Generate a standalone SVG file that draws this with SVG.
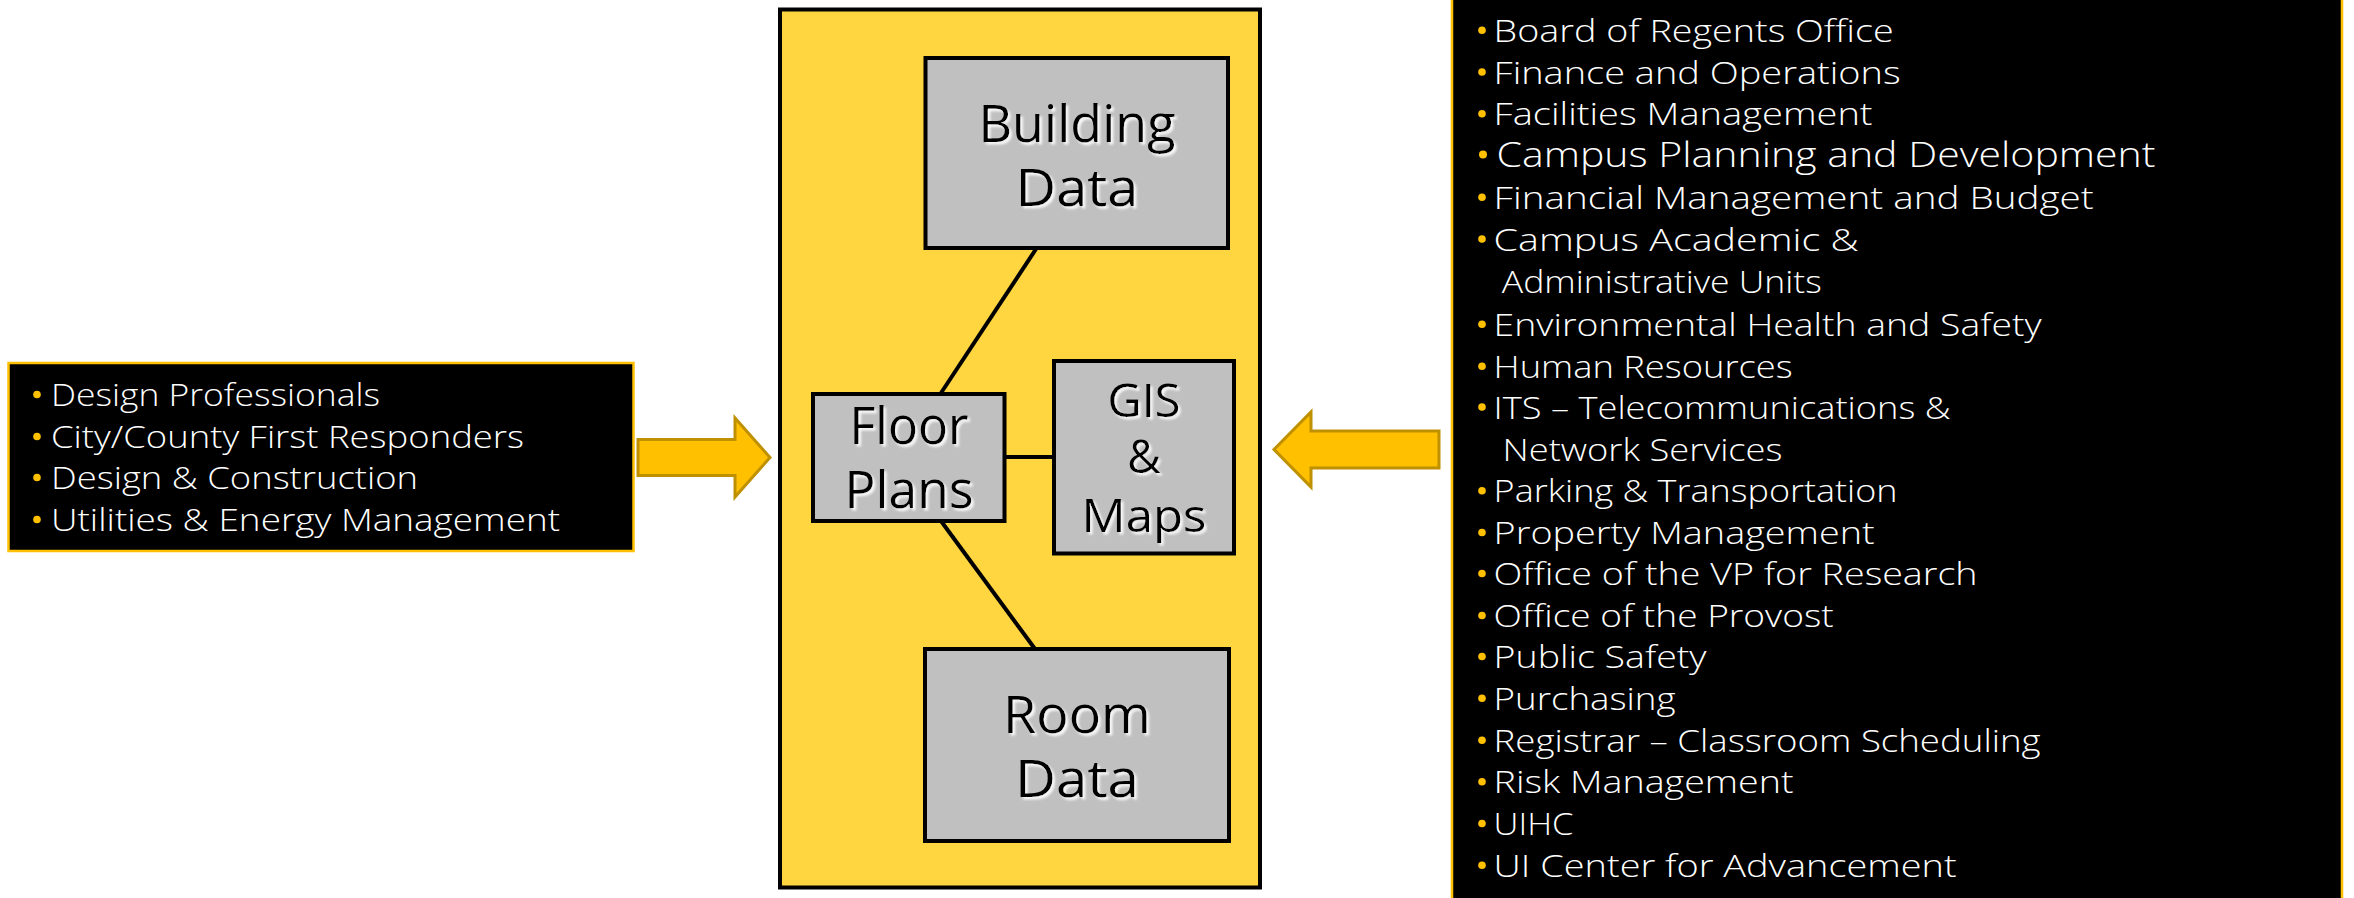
<svg xmlns="http://www.w3.org/2000/svg" width="2354" height="898" viewBox="0 0 2354 898">
<style>
.panel{fill:#000;stroke:#FFC000;stroke-width:2.5}
.main{fill:#FFD63F;stroke:#000;stroke-width:4}
.node{fill:#C0C0C0;stroke:#000;stroke-width:4}
.arrow{fill:#FFC000;stroke:#BF9000;stroke-width:3;stroke-linejoin:miter}
.conn{stroke:#000;stroke-width:4;fill:none}
.lbl{font-family:"Open Sans","Liberation Sans",sans-serif;font-weight:400;font-size:51px;fill:#000;text-anchor:middle;filter:url(#sh)}
.lbl2{font-family:"Open Sans","Liberation Sans",sans-serif;font-weight:400;font-size:46px;fill:#000;text-anchor:middle;filter:url(#sh)}
.li{font-family:"Open Sans","Liberation Sans",sans-serif;font-weight:300;font-size:31px;fill:#fff}
.lil{font-family:"Open Sans","Liberation Sans",sans-serif;font-weight:300;font-size:32px;fill:#fff}
.big{font-size:34px}
.bul{fill:#FFC000}
</style>
<defs>
<filter id="sh" x="-10%" y="-20%" width="130%" height="150%">
<feDropShadow dx="2.5" dy="2.5" stdDeviation="1" flood-color="#fff" flood-opacity="0.9"/>
</filter>
</defs>

<g id="left-panel">
<rect class="panel" x="8.5" y="363" width="625" height="188"/>
<circle class="bul" cx="37" cy="394.5" r="3.8"/>
<text class="lil" x="51" y="406" textLength="329" lengthAdjust="spacingAndGlyphs">Design Professionals</text>
<circle class="bul" cx="37" cy="436.5" r="3.8"/>
<text class="lil" x="51" y="448" textLength="473" lengthAdjust="spacingAndGlyphs">City/County First Responders</text>
<circle class="bul" cx="37" cy="477.5" r="3.8"/>
<text class="lil" x="51" y="489" textLength="367" lengthAdjust="spacingAndGlyphs">Design &amp; Construction</text>
<circle class="bul" cx="37" cy="519.5" r="3.8"/>
<text class="lil" x="51" y="531" textLength="509" lengthAdjust="spacingAndGlyphs">Utilities &amp; Energy Management</text>
</g>

<g id="arrow-left">
<polygon class="arrow" points="638,439.5 735,439.5 735,418 770,457.5 735,497 735,475.5 638,475.5"/>
</g>

<g id="main-box">
<rect class="main" x="780" y="9.5" width="480" height="878"/>
</g>

<g id="connectors">
<line class="conn" x1="1036" y1="249" x2="941" y2="393"/>
<line class="conn" x1="941" y1="521" x2="1035" y2="649"/>
<line class="conn" x1="1005" y1="457" x2="1053" y2="457"/>
</g>

<g id="building-data">
<rect class="node" x="925.5" y="58" width="302.5" height="190"/>
<text class="lbl" x="1077" y="141.7" textLength="197" lengthAdjust="spacingAndGlyphs">Building</text>
<text class="lbl" x="1077" y="205.7" textLength="123" lengthAdjust="spacingAndGlyphs">Data</text>
</g>

<g id="floor-plans">
<rect class="node" x="813" y="394" width="191.5" height="127"/>
<text class="lbl" x="909" y="444" textLength="119" lengthAdjust="spacingAndGlyphs">Floor</text>
<text class="lbl" x="909" y="508" textLength="129" lengthAdjust="spacingAndGlyphs">Plans</text>
</g>

<g id="gis-maps">
<rect class="node" x="1054" y="361" width="180" height="192.5"/>
<text class="lbl2" x="1144" y="416.7" textLength="73" lengthAdjust="spacingAndGlyphs">GIS</text>
<text class="lbl2" x="1144" y="473.3">&amp;</text>
<text class="lbl2" x="1144" y="531.7" textLength="125" lengthAdjust="spacingAndGlyphs">Maps</text>
</g>

<g id="room-data">
<rect class="node" x="925" y="649" width="304" height="192"/>
<text class="lbl" x="1077" y="733.3" textLength="148" lengthAdjust="spacingAndGlyphs">Room</text>
<text class="lbl" x="1077" y="796.7" textLength="124" lengthAdjust="spacingAndGlyphs">Data</text>
</g>

<g id="arrow-right">
<polygon class="arrow" points="1439,431 1311,431 1311,412 1274,449.5 1311,487 1311,468 1439,468"/>
</g>

<g id="right-panel">
<rect class="panel" x="1452" y="-10" width="890" height="920"/>
<circle class="bul" cx="1482" cy="30.2" r="3.8"/>
<text class="li" x="1493.6" y="41.7" textLength="400" lengthAdjust="spacingAndGlyphs">Board of Regents Office</text>
<circle class="bul" cx="1482" cy="72" r="3.8"/>
<text class="li" x="1493.6" y="83.5" textLength="407" lengthAdjust="spacingAndGlyphs">Finance and Operations</text>
<circle class="bul" cx="1482" cy="113.7" r="3.8"/>
<text class="li" x="1493.6" y="125.2" textLength="379" lengthAdjust="spacingAndGlyphs">Facilities Management</text>
<circle class="bul" cx="1483" cy="154.5" r="4"/>
<text class="li big" x="1496.5" y="167" textLength="659" lengthAdjust="spacingAndGlyphs">Campus Planning and Development</text>
<circle class="bul" cx="1482" cy="197.2" r="3.8"/>
<text class="li" x="1493.6" y="208.7" textLength="600" lengthAdjust="spacingAndGlyphs">Financial Management and Budget</text>
<circle class="bul" cx="1482" cy="239" r="3.8"/>
<text class="li" x="1493.6" y="250.5" textLength="365" lengthAdjust="spacingAndGlyphs">Campus Academic &amp;</text>
<text class="li" x="1501.8" y="292.5" textLength="320" lengthAdjust="spacingAndGlyphs">Administrative Units</text>
<circle class="bul" cx="1482" cy="324.2" r="3.8"/>
<text class="li" x="1493.6" y="335.7" textLength="548" lengthAdjust="spacingAndGlyphs">Environmental Health and Safety</text>
<circle class="bul" cx="1482" cy="366.2" r="3.8"/>
<text class="li" x="1493.6" y="377.7" textLength="299" lengthAdjust="spacingAndGlyphs">Human Resources</text>
<circle class="bul" cx="1482" cy="407" r="3.8"/>
<text class="li" x="1493.6" y="418.5" textLength="457" lengthAdjust="spacingAndGlyphs">ITS – Telecommunications &amp;</text>
<text class="li" x="1502.5" y="460.5" textLength="280" lengthAdjust="spacingAndGlyphs">Network Services</text>
<circle class="bul" cx="1482" cy="490.7" r="3.8"/>
<text class="li" x="1493.6" y="502.2" textLength="404" lengthAdjust="spacingAndGlyphs">Parking &amp; Transportation</text>
<circle class="bul" cx="1482" cy="532.5" r="3.8"/>
<text class="li" x="1493.6" y="544" textLength="381" lengthAdjust="spacingAndGlyphs">Property Management</text>
<circle class="bul" cx="1482" cy="573.5" r="3.8"/>
<text class="li" x="1493.6" y="585" textLength="484" lengthAdjust="spacingAndGlyphs">Office of the VP for Research</text>
<circle class="bul" cx="1482" cy="615.5" r="3.8"/>
<text class="li" x="1493.6" y="627" textLength="340" lengthAdjust="spacingAndGlyphs">Office of the Provost</text>
<circle class="bul" cx="1482" cy="656.5" r="3.8"/>
<text class="li" x="1493.6" y="668" textLength="213" lengthAdjust="spacingAndGlyphs">Public Safety</text>
<circle class="bul" cx="1482" cy="698.3" r="3.8"/>
<text class="li" x="1493.6" y="709.8" textLength="182" lengthAdjust="spacingAndGlyphs">Purchasing</text>
<circle class="bul" cx="1482" cy="740.2" r="3.8"/>
<text class="li" x="1493.6" y="751.7" textLength="547" lengthAdjust="spacingAndGlyphs">Registrar – Classroom Scheduling</text>
<circle class="bul" cx="1482" cy="781.8" r="3.8"/>
<text class="li" x="1493.6" y="793.3" textLength="300" lengthAdjust="spacingAndGlyphs">Risk Management</text>
<circle class="bul" cx="1482" cy="823.5" r="3.8"/>
<text class="li" x="1493.6" y="835" textLength="80" lengthAdjust="spacingAndGlyphs">UIHC</text>
<circle class="bul" cx="1482" cy="865.3" r="3.8"/>
<text class="li" x="1493.6" y="876.8" textLength="463" lengthAdjust="spacingAndGlyphs">UI Center for Advancement</text>
</g>
</svg>
